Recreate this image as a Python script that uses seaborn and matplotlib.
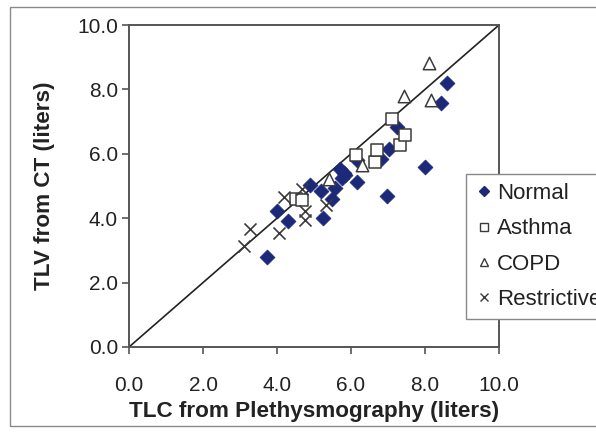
import matplotlib
matplotlib.use("Agg")
import matplotlib.pyplot as plt
import seaborn as sns
import pandas as pd
from matplotlib.lines import Line2D
from matplotlib.patches import Rectangle

# Total lung capacity (plethysmography) vs. total lung volume from CT, in liters
normal_tlc = [3.72, 3.99, 4.31, 4.90, 5.20, 5.23, 5.48, 5.57, 5.70, 5.80, 5.75, 5.85,
              6.15, 6.16, 6.80, 6.96, 7.04, 7.25, 8.00, 8.42, 8.60]
normal_tlv = [2.79, 4.21, 3.92, 5.03, 4.86, 4.02, 4.60, 4.95, 5.52, 5.40, 5.25, 5.35,
              5.82, 5.12, 5.83, 4.70, 6.14, 6.84, 5.60, 7.57, 8.21]

asthma_tlc = [4.51, 4.67, 6.14, 6.65, 6.70, 7.12, 7.32, 7.46]
asthma_tlv = [4.59, 4.56, 5.97, 5.73, 6.11, 7.07, 6.27, 6.58]

copd_tlc = [5.40, 6.30, 7.43, 8.11, 8.15]
copd_tlv = [5.22, 5.65, 7.80, 8.81, 7.67]

restrictive_tlc = [3.10, 3.28, 4.06, 4.19, 4.68, 4.77, 4.76, 5.32]
restrictive_tlv = [3.15, 3.67, 3.54, 4.67, 4.92, 4.22, 3.95, 4.40]

groups = ["Normal", "Asthma", "COPD", "Restrictive"]
tick_values = [0.0, 2.0, 4.0, 6.0, 8.0, 10.0]
tick_labels = ["0.0", "2.0", "4.0", "6.0", "8.0", "10.0"]

frames = []
for name, xs, ys in [("Normal", normal_tlc, normal_tlv),
                     ("Asthma", asthma_tlc, asthma_tlv),
                     ("COPD", copd_tlc, copd_tlv),
                     ("Restrictive", restrictive_tlc, restrictive_tlv)]:
    frames.append(pd.DataFrame({"tlc": xs, "tlv": ys, "group": name}))
df = pd.concat(frames, ignore_index=True)

sns.set_theme(style="white")
plt.rcParams["font.family"] = ["Liberation Sans", "DejaVu Sans"]

navy = "#1c2878"
edge = "#3a3a3a"
styles = {
    "Normal": dict(marker="D", s=58, color=navy, edgecolor=navy, linewidth=0.5),
    "Asthma": dict(marker="s", s=80, facecolor="white", edgecolor=edge, linewidth=1.1),
    "COPD": dict(marker="^", s=80, facecolor="white", edgecolor=edge, linewidth=1.1),
    "Restrictive": dict(marker="x", s=75, color=edge, linewidth=1.2),
}

fig = plt.figure(figsize=(5.96, 4.36), dpi=100)
ax = fig.add_axes([129 / 596, 1 - 347 / 436, 370 / 596, 322 / 436])

# identity line
ax.plot([0, 10], [0, 10], color="#222222", linewidth=1.2, zorder=1)

for g in groups:
    sub = df[df["group"] == g]
    sns.scatterplot(data=sub, x="tlc", y="tlv", ax=ax, legend=False, zorder=3, **styles[g])

ax.set_xlim(0, 10)
ax.set_ylim(0, 10)
ax.set_xticks(tick_values)
ax.set_xticklabels(tick_labels)
ax.set_yticks(tick_values)
ax.set_yticklabels(tick_labels)
ax.tick_params(axis="both", direction="out", length=5, width=1.2, color="#555555",
               labelsize=15, labelcolor="#222222", pad=3, bottom=True, left=True)
ax.tick_params(axis="x", pad=16)
for sp in ax.spines.values():
    sp.set_color("#555555")
    sp.set_linewidth(1.4)

ax.set_xlabel("TLC from Plethysmography (liters)", fontsize=16.2, fontweight="bold",
              color="#222222", labelpad=4)
ax.set_ylabel("TLV from CT (liters)", fontsize=16.2, fontweight="bold",
              color="#222222", labelpad=16)

handles = [
    Line2D([], [], linestyle="none", marker="D", markersize=5, color=navy),
    Line2D([], [], linestyle="none", marker="s", markersize=6, markerfacecolor="white",
           markeredgecolor=edge, markeredgewidth=1.0),
    Line2D([], [], linestyle="none", marker="^", markersize=6, markerfacecolor="white",
           markeredgecolor=edge, markeredgewidth=1.0),
    Line2D([], [], linestyle="none", marker="x", markersize=6, color=edge,
           markeredgewidth=1.0),
]
leg = ax.legend(handles, groups, loc="upper left",
                bbox_to_anchor=(466 / 596, 1 - 174 / 436), bbox_transform=fig.transFigure,
                frameon=True, fancybox=False, edgecolor="#888888", framealpha=1,
                fontsize=16, handlelength=0.8, handletextpad=0.2, labelspacing=0.65,
                borderpad=0.4, borderaxespad=0)
leg.get_frame().set_linewidth(1.0)
for t in leg.get_texts():
    t.set_color("#222222")

# outer frame around the figure
fig.patches.append(Rectangle((10 / 596, 1 - 426 / 436), 1.0, (426 - 7) / 436,
                             transform=fig.transFigure, fill=False,
                             edgecolor="#8a8a8a", linewidth=1.0, clip_on=False))

fig.savefig("out.png", dpi=100)
